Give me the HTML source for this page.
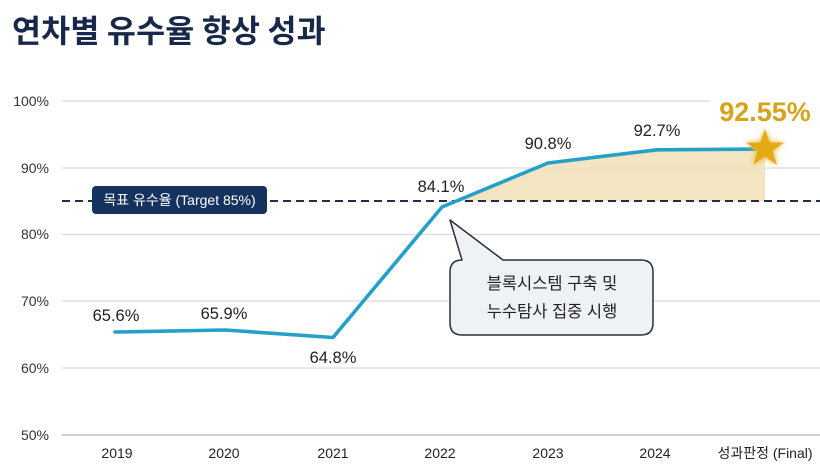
<!DOCTYPE html>
<html><head><meta charset="utf-8"><style>
html,body{margin:0;padding:0;background:#fff;}
svg{display:block;}
text{font-family:"Liberation Sans","Noto Sans CJK KR",sans-serif;}
</style></head><body>
<svg width="820" height="467" viewBox="0 0 820 467" xmlns="http://www.w3.org/2000/svg">
<defs>
<filter id="glow" x="-50%" y="-50%" width="200%" height="200%">
<feGaussianBlur stdDeviation="3" result="b"/>
<feMerge><feMergeNode in="b"/><feMergeNode in="SourceGraphic"/></feMerge>
</filter>
</defs>
<rect width="820" height="467" fill="#fff"/>
<text x="12" y="42" font-size="31.5" font-weight="bold" fill="#17284a" letter-spacing="0.2" style="font-family:'Noto Sans CJK KR',sans-serif">연차별 유수율 향상 성과</text>

<!-- gridlines -->
<g stroke="#dcdcdc" stroke-width="1.3">
<line x1="62" y1="101" x2="710" y2="101"/>
<line x1="62" y1="168" x2="820" y2="168"/>
<line x1="62" y1="234.5" x2="820" y2="234.5"/>
<line x1="62" y1="301" x2="820" y2="301"/>
<line x1="62" y1="368" x2="820" y2="368"/>
</g>
<line x1="62" y1="435" x2="820" y2="435" stroke="#bdbdbd" stroke-width="1.5"/>

<!-- y labels -->
<g font-size="14" fill="#333" text-anchor="end">
<text x="49" y="106">100%</text>
<text x="49" y="173">90%</text>
<text x="49" y="239">80%</text>
<text x="49" y="306">70%</text>
<text x="49" y="373">60%</text>
<text x="49" y="440">50%</text>
</g>

<!-- fill -->
<polygon points="456,201 548,163 657,149.8 765,149 765,201" fill="#f2e2ba" opacity="0.9"/>

<!-- target dashed -->
<line x1="62" y1="201" x2="820" y2="201" stroke="#1f2d4a" stroke-width="2" stroke-dasharray="8,5"/>
<rect x="92" y="186" width="175" height="28" rx="4" fill="#14325e"/>
<text x="179.5" y="205" font-size="14" fill="#fff" text-anchor="middle">목표 유수율 (Target 85%)</text>

<!-- line -->
<polyline points="115,332 225,330 333,337.5 442,207 548,163 657,149.8 765,149" fill="none" stroke="#25a0c9" stroke-width="3.6" stroke-linejoin="round" stroke-linecap="round"/>

<!-- star -->
<g filter="url(#glow)">
<polygon fill="#e3aa14" stroke="#f5d77a" stroke-width="0.5" points="765,129 769.8,142.2 784,142.5 772.8,151 776.9,165 765,156.8 753.1,165 757.2,151 746,142.5 760.2,142.2"/>
</g>

<!-- data labels -->
<g font-size="16.5" fill="#222" text-anchor="middle">
<text x="116" y="321">65.6%</text>
<text x="224" y="319">65.9%</text>
<text x="333" y="363">64.8%</text>
<text x="441" y="192">84.1%</text>
<text x="548" y="149">90.8%</text>
<text x="657" y="136">92.7%</text>
</g>
<text x="765" y="121" font-size="27" font-weight="bold" fill="#d6a31b" text-anchor="middle">92.55%</text>

<!-- callout -->
<path d="M462,260 L450,220 L503,260 L641,260 Q653,260 653,272 L653,323 Q653,335 641,335 L462,335 Q450,335 450,323 L450,272 Q450,260 462,260 Z" fill="#eef1f6" stroke="#2b2f36" stroke-width="1.5" stroke-linejoin="round"/>
<g font-size="16.5" fill="#222" text-anchor="middle">
<text x="552" y="289">블록시스템 구축 및</text>
<text x="552" y="317">누수탐사 집중 시행</text>
</g>

<!-- x labels -->
<g font-size="14" fill="#222" text-anchor="middle">
<text x="117" y="458">2019</text>
<text x="224" y="458">2020</text>
<text x="333" y="458">2021</text>
<text x="440" y="458">2022</text>
<text x="548" y="458">2023</text>
<text x="655" y="458">2024</text>
<text x="765" y="458">성과판정 (Final)</text>
</g>
</svg>
</body></html>
